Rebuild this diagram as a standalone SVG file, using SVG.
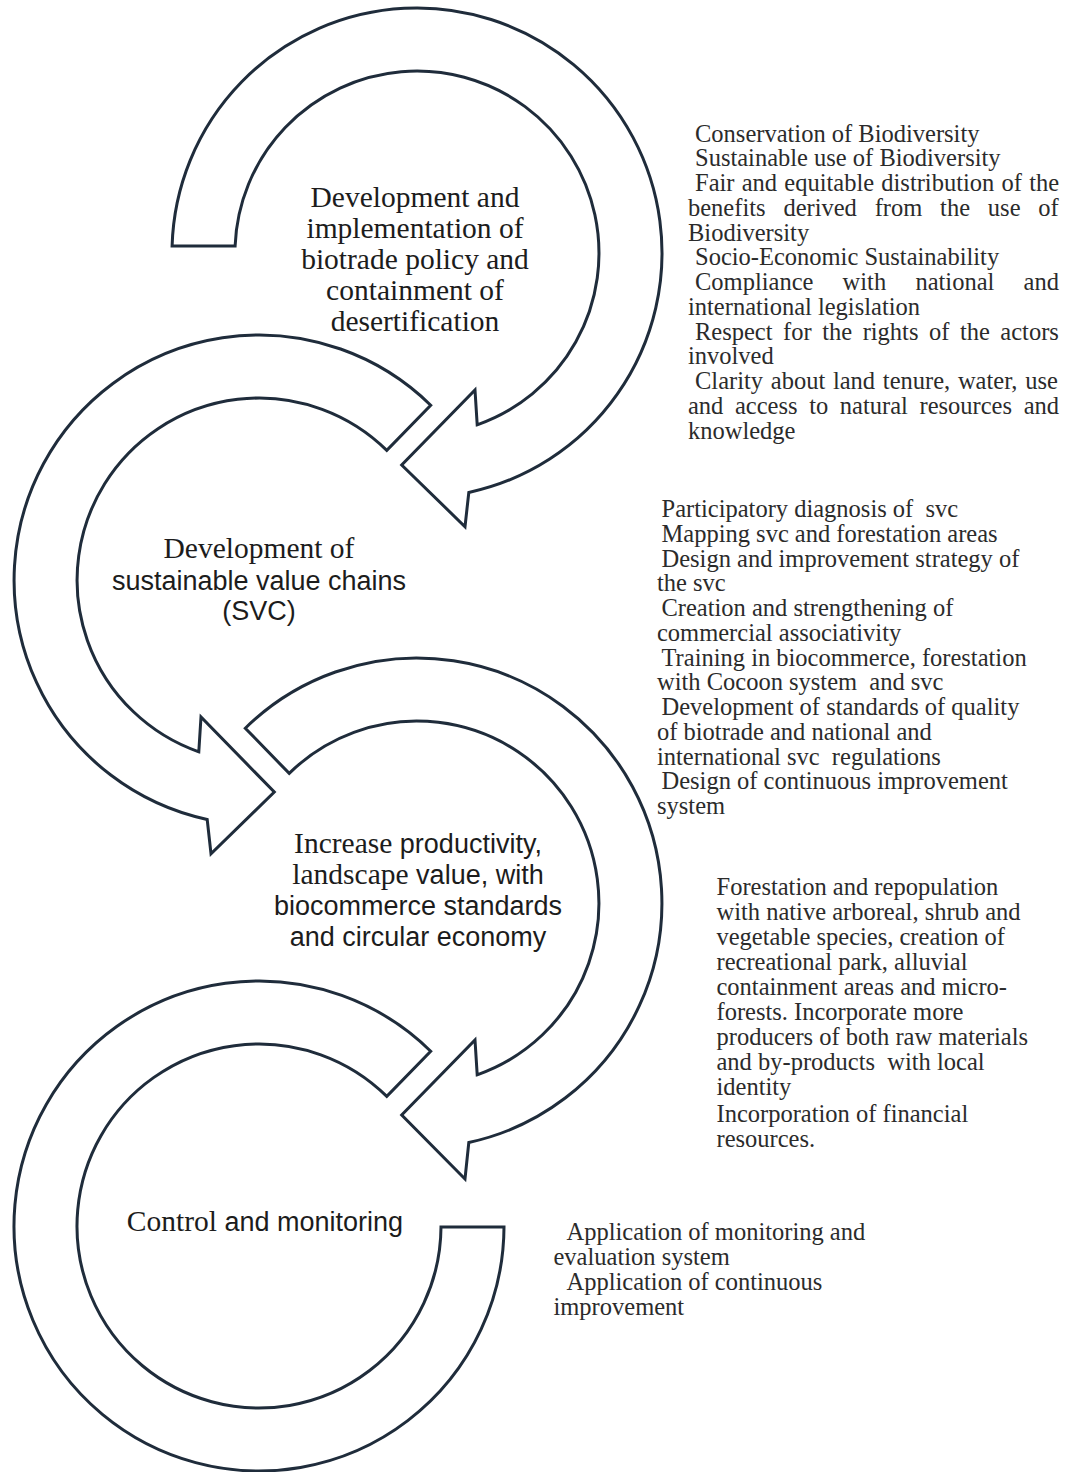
<svg xmlns="http://www.w3.org/2000/svg" width="1067" height="1472" viewBox="0 0 1067 1472">
<style>
.arrow{fill:#fff;stroke:#1f2c3b;stroke-width:3;stroke-linejoin:miter}
.lbl{font-family:"Liberation Serif",serif;font-size:29.5px;fill:#1c1c1c;text-anchor:middle}
.sans{font-family:"Liberation Sans",sans-serif;font-size:27px}
.note{font-family:"Liberation Serif",serif;font-size:24.5px;fill:#2b2b2b}
</style>
<rect width="1067" height="1472" fill="#fff"/>
<g id="ring1">
<path class="arrow" d="M172.1,246 A245,245 0 1 1 468.8,492.5 L465,526.7 L401.7,465 L475,390 L477.2,424.8 A182,182 0 1 0 235.1,246 Z"/>
<text class="lbl"><tspan x="415" y="206.5">Development and</tspan><tspan x="415" y="237.5">implementation of</tspan><tspan x="415" y="268.5">biotrade policy and</tspan><tspan x="415" y="299.5">containment of</tspan><tspan x="415" y="330.5">desertification</tspan></text>
</g>
<g id="ring2">
<path class="arrow" d="M430.7,405.2 A245,245 0 1 0 207.2,819.5 L211,853.7 L274.3,792 L201,717 L198.8,751.8 A182,182 0 1 1 386.8,450.4 Z"/>
<text class="lbl"><tspan x="259" y="558">Development of</tspan><tspan class="sans" x="259" y="590">sustainable value chains</tspan><tspan class="sans" x="259" y="620">(SVC)</tspan></text>
</g>
<g id="ring3">
<path class="arrow" d="M245.3,728.2 A245,245 0 1 1 468.8,1142.5 L465,1179 L401.7,1115 L475,1040 L477.2,1074.8 A182,182 0 1 0 289.2,773.4 Z"/>
<text class="lbl" x="418" y="853">Increase<tspan class="sans"> productivity,</tspan></text>
<text class="lbl" x="418" y="884">landscape<tspan class="sans"> value, with</tspan></text>
<text class="lbl sans" x="418" y="915">biocommerce standards</text>
<text class="lbl sans" x="418" y="946">and circular economy</text>
</g>
<g id="ring4">
<path class="arrow" d="M430.7,1051.2 A245,245 0 1 0 504,1227 L441,1227 A182,182 0 1 1 386.8,1096.4 Z"/>
<text class="lbl" x="265" y="1231">Control<tspan class="sans"> and monitoring</tspan></text>
</g>
<g id="notes1" class="note">
<text x="695" y="141.5">Conservation of Biodiversity</text>
<text x="695" y="166.25">Sustainable use of Biodiversity</text>
<text x="695" y="191" word-spacing="1.1">Fair and equitable distribution of the</text>
<text x="688" y="215.75" word-spacing="11.7">benefits derived from the use of</text>
<text x="688" y="240.5">Biodiversity</text>
<text x="695" y="265.25">Socio-Economic Sustainability</text>
<text x="695" y="290" word-spacing="23.1">Compliance with national and</text>
<text x="688" y="314.75">international legislation</text>
<text x="695" y="339.5" word-spacing="4.4">Respect for the rights of the actors</text>
<text x="688" y="364.25">involved</text>
<text x="695" y="389" word-spacing="1.6">Clarity about land tenure, water, use</text>
<text x="688" y="413.75" word-spacing="5.5">and access to natural resources and</text>
<text x="688" y="438.5">knowledge</text>
</g>
<g id="notes2" class="note">
<text x="661.5" y="517" xml:space="preserve">Participatory diagnosis of  svc</text>
<text x="661.5" y="541.75">Mapping svc and forestation areas</text>
<text x="661.5" y="566.5">Design and improvement strategy of</text>
<text x="657" y="591.25">the svc</text>
<text x="661.5" y="616">Creation and strengthening of</text>
<text x="657" y="640.75">commercial associativity</text>
<text x="661.5" y="665.5">Training in biocommerce, forestation</text>
<text x="657" y="690.25" xml:space="preserve">with Cocoon system  and svc</text>
<text x="661.5" y="715">Development of standards of quality</text>
<text x="657" y="739.75">of biotrade and national and</text>
<text x="657" y="764.5" xml:space="preserve">international svc  regulations</text>
<text x="661.5" y="789.25">Design of continuous improvement</text>
<text x="657" y="814">system</text>
</g>
<g id="notes3" class="note">
<text x="716.5" y="895">Forestation and repopulation</text>
<text x="716.5" y="920">with native arboreal, shrub and</text>
<text x="716.5" y="945">vegetable species, creation of</text>
<text x="716.5" y="970">recreational park, alluvial</text>
<text x="716.5" y="995">containment areas and micro-</text>
<text x="716.5" y="1020">forests. Incorporate more</text>
<text x="716.5" y="1045">producers of both raw materials</text>
<text x="716.5" y="1070" xml:space="preserve">and by-products  with local</text>
<text x="716.5" y="1095">identity</text>
<text x="716.5" y="1122">Incorporation of financial</text>
<text x="716.5" y="1147">resources.</text>
</g>
<g id="notes4" class="note">
<text x="566.5" y="1240">Application of monitoring and</text>
<text x="553.5" y="1265">evaluation system</text>
<text x="566.5" y="1290">Application of continuous</text>
<text x="553.5" y="1315">improvement</text>
</g>
</svg>
